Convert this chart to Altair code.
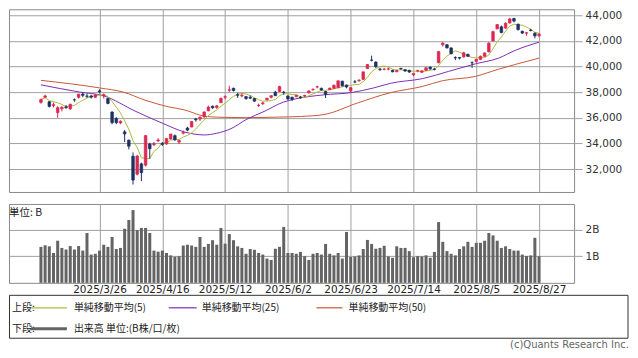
import altair as alt
import pandas as pd

# ---------------- data ----------------
tick_idx = [14, 29, 44, 59, 74, 89, 104, 119]
tick_labels = ["2025/3/26", "2025/4/16", "2025/5/12", "2025/6/2",
               "2025/6/23", "2025/7/14", "2025/8/5", "2025/8/27"]
price_ticks = [32000, 34000, 36000, 38000, 40000, 42000, 44000]
vol_ticks = [1, 2]

opens = [
    37200, 37600, 37250, 36950, 36400, 36700, 36850, 36700, 37400, 37600,
    37850, 37700, 37700, 37600, 38100, 37700, 37500, 36450, 35950, 35600,
    34900, 34250, 33000, 31600, 32400, 32300, 33950, 33900, 34200, 34000,
    33950, 34350, 34600, 34100, 34800, 35200, 35280, 35900, 35900, 36080,
    36550, 36900, 36800, 37180, 37600, 38150, 38300, 37800, 37700, 37650,
    37600, 37500, 36950, 37100, 37400, 37600, 38000, 38050, 38000, 37700,
    37600, 37650, 37600, 37700, 37950, 38200, 38400, 38300, 38050, 38200,
    38300, 38350, 38850, 38550, 38100, 38800, 38900, 39000, 39850, 40500,
    40350, 39800, 39780, 39800, 39700, 39600, 39850, 39750, 39700, 39350,
    39650, 39550, 39700, 39950, 39800, 40300, 41700, 41700, 41450, 40700,
    40700, 40750, 40950, 40300, 40400, 40550, 40800, 41150, 42000, 42950,
    43100, 43000, 43400, 43750, 43300, 42750, 42600, 42850, 42600, 42400,
]
highs = [
    37500, 37800, 37300, 37200, 36900, 36900, 37000, 37100, 37500, 37850,
    38000, 37900, 37800, 37850, 38220, 37900, 37550, 36500, 36050, 35800,
    35050, 34300, 33300, 33100, 32500, 34640, 34050, 34100, 34400, 34100,
    34400, 34750, 34700, 34300, 35000, 35300, 35750, 36000, 36100, 36500,
    36950, 36950, 37000, 37600, 37750, 38500, 38350, 37950, 37900, 37700,
    37750, 37550, 37100, 37250, 37550, 37750, 38100, 38500, 38100, 37750,
    37650, 37800, 37700, 37800, 38150, 38300, 38500, 38350, 38100, 38350,
    38600, 38900, 38900, 38600, 38400, 38950, 39000, 39600, 40200, 40850,
    40400, 39900, 39900, 39900, 39750, 39750, 39900, 39800, 39750, 39500,
    39750, 39700, 39950, 40000, 39900, 41200, 41900, 41750, 41500, 40800,
    40750, 41150, 41000, 40400, 40600, 40850, 41100, 41900, 42800, 43300,
    43200, 43450, 43800, 43800, 43350, 42800, 42700, 42950, 42650, 42600,
]
lows = [
    37100, 37550, 36800, 36800, 35990, 36500, 36700, 36600, 37250, 37500,
    37600, 37550, 37500, 37550, 37900, 37500, 37050, 35500, 35500, 35500,
    34100, 33530, 30790, 31500, 31060, 32200, 32800, 33800, 34100, 33800,
    33900, 34300, 34200, 33950, 34700, 34950, 35250, 35700, 35750, 36000,
    36500, 36700, 36700, 37150, 37450, 38000, 38050, 37550, 37600, 37400,
    37450, 37250, 36850, 37000, 37350, 37500, 37700, 38000, 37800, 37400,
    37300, 37600, 37500, 37600, 37900, 38100, 38300, 38100, 37540, 38150,
    38250, 38300, 38450, 38300, 38000, 38700, 38800, 38950, 39800, 40400,
    39900, 39650, 39700, 39700, 39550, 39550, 39750, 39600, 39500, 39250,
    39550, 39500, 39650, 39750, 39700, 40250, 41550, 41400, 40950, 40500,
    40550, 40700, 40750, 39900, 40300, 40500, 40750, 41100, 41950, 42900,
    42600, 42950, 43350, 43450, 42800, 42550, 42400, 42750, 42200, 42300,
]
closes = [
    37418, 37705, 36887, 37028, 36793, 36819, 36790, 37053, 37396, 37845,
    37751, 37677, 37608, 37780, 38027, 37799, 37120, 35617, 35624, 35725,
    34735, 33780, 31136, 33012, 31714, 34609, 33586, 33982, 34267, 33920,
    34377, 34730, 34280, 34220, 34868, 35039, 35705, 35840, 36045, 36452,
    36831, 36780, 36928, 37503, 37644, 38183, 38128, 37755, 37753, 37498,
    37529, 37299, 36985, 37160, 37532, 37724, 37722, 38432, 37965, 37470,
    37446, 37747, 37554, 37741, 38088, 38211, 38421, 38173, 37834, 38311,
    38536, 38885, 38488, 38403, 38354, 38790, 38942, 39584, 40150, 40487,
    39986, 39762, 39785, 39810, 39587, 39688, 39821, 39646, 39569, 39459,
    39678, 39663, 39901, 39819, 39774, 41171, 41826, 41456, 40998, 40674,
    40654, 41069, 40800, 40290, 40549, 40794, 41059, 41820, 42718, 43274,
    42649, 43378, 43714, 43546, 42888, 42610, 42633, 42807, 42394, 42520,
]
volumes = [
    1.35, 1.41, 1.37, 1.12, 1.58, 1.31, 1.25, 1.38, 1.25, 1.38,
    1.21, 1.87, 1.06, 1.09, 1.21, 1.43, 1.35, 1.72, 1.27, 1.31,
    2.03, 2.36, 2.73, 1.98, 2.06, 2.06, 1.87, 1.21, 1.17, 1.21,
    1.12, 1.03, 0.98, 1.00, 1.40, 1.43, 1.40, 1.35, 1.72, 1.35,
    1.46, 1.60, 1.43, 2.06, 1.47, 1.83, 1.60, 1.37, 1.31, 1.09,
    1.27, 1.24, 1.12, 1.06, 0.91, 0.86, 1.28, 1.35, 2.10, 1.12,
    1.12, 1.09, 1.16, 1.00, 0.86, 1.09, 1.12, 1.06, 1.46, 1.09,
    1.03, 1.12, 0.91, 1.91, 0.97, 0.99, 1.03, 1.27, 1.61, 1.46,
    1.28, 1.31, 1.39, 0.99, 0.94, 1.37, 1.31, 1.31, 1.19, 0.96,
    1.00, 0.99, 1.03, 0.94, 1.16, 2.28, 1.54, 1.19, 1.09, 1.03,
    1.27, 1.37, 1.54, 1.35, 1.50, 1.50, 1.58, 1.87, 1.78, 1.58,
    1.31, 1.37, 1.27, 1.21, 1.21, 1.06, 1.01, 1.03, 1.69, 1.00,
]
ma25_idx = [0, 9.2, 14.9, 22.7, 29.4, 34.2, 39, 42, 45.4, 49.2, 53.3, 58,
            60.9, 67.6, 74, 79.5, 83.5, 91.2, 97.4, 103.8, 109.3, 113.3, 119]
ma25_val = [38570, 38010, 37720, 36490, 35520, 34900, 34660, 34790, 35150,
            35890, 36490, 37230, 37480, 37790, 37960, 38330, 38690, 39060,
            39620, 40210, 40650, 41260, 41900]
ma50_idx = [0, 14, 19.6, 25.1, 30.4, 34.2, 39, 42, 49.2, 56.4, 62, 67.6,
            75.6, 83.5, 91.2, 95.9, 103.8, 109.3, 113.3, 119]
ma50_val = [38920, 38330, 38010, 37350, 36860, 36620, 36130, 36050, 36010,
            36050, 36100, 36250, 37150, 37960, 38450, 38890, 39230, 39790,
            40160, 40660]

legend_top = "上段:"
legend_bottom = "下段:"
ma_names = ["単純移動平均(5)", "単純移動平均(25)", "単純移動平均(50)"]
vol_name = "出来高 単位:(B株/口/枚)"
unit_text = "単位: B"
credit_text = "(c)Quants Research Inc."

# ---------------- styling ----------------
RED = "#dc2850"
NAVY = "#1d3163"
MA5C = "#aebb3e"
MA25C = "#7b2fb5"
MA50C = "#c9573a"
VOLC = "#646464"
GRID = "#a0a0a0"
FONT = "DejaVu Sans"
JFONT = "Noto Sans CJK JP"

W, H1, H2 = 566, 183, 79
xscale = alt.Scale(domain=[-7.63, 127.37], nice=False, zero=False, padding=0)
yscale = alt.Scale(domain=[30208, 44468], nice=False, zero=False, padding=0)

df = pd.DataFrame({"idx": list(range(len(closes))), "open": opens, "high": highs,
                   "low": lows, "close": closes, "vol": volumes})
df["dir"] = ["up" if c >= o else "down" for o, c in zip(opens, closes)]

label_expr = ("[" + ",".join("'%s'" % t for t in tick_labels) + "][indexof(["
              + ",".join(str(v) for v in tick_idx) + "], datum.value)]")

up_x_axis = alt.Axis(values=tick_idx, labels=False, ticks=False, domain=False,
                     grid=True, gridColor=GRID, title=None)
price_axis = alt.Axis(orient="right", values=price_ticks,
                      labelExpr="format(datum.value, ',')", grid=True,
                      gridColor=GRID, tickColor=GRID, tickSize=8, domain=False,
                      labelPadding=3, labelFont=FONT, labelFontSize=10.5,
                      labelOverlap=False, labelColor="#333333", title=None)
cdir = alt.Color("dir:N", scale=alt.Scale(domain=["up", "down"], range=[RED, NAVY]),
                 legend=None)
sdir = alt.Stroke("dir:N", scale=alt.Scale(domain=["up", "down"], range=[RED, NAVY]),
                  legend=None)

base = alt.Chart(df)
X_UP = alt.X("idx:Q", scale=xscale, axis=up_x_axis)
Y_UP = lambda f: alt.Y(f, scale=yscale, axis=price_axis)

ma50 = alt.Chart(pd.DataFrame({"idx": ma50_idx, "v": ma50_val})).mark_line(
    color=MA50C, strokeWidth=1, interpolate="monotone").encode(x=X_UP, y=Y_UP("v:Q"))
ma25 = alt.Chart(pd.DataFrame({"idx": ma25_idx, "v": ma25_val})).mark_line(
    color=MA25C, strokeWidth=1, interpolate="monotone").encode(x=X_UP, y=Y_UP("v:Q"))
ma5 = base.transform_window(
    ma5="mean(close)", frame=[-4, 0], sort=[alt.SortField("idx")]
).mark_line(color=MA5C, strokeWidth=1).encode(x=X_UP, y=Y_UP("ma5:Q"))
wick = base.mark_rule(strokeWidth=1).encode(
    x=X_UP, y=Y_UP("low:Q"), y2="high:Q", color=cdir)
body = base.mark_bar(size=2.6, strokeWidth=0.7).encode(
    x=X_UP, y=Y_UP("open:Q"), y2="close:Q", color=cdir, stroke=sdir)

upper = alt.layer(ma50, ma25, ma5, wick, body).properties(width=W, height=H1)

# ---------------- lower panel ----------------
low_x_axis = alt.Axis(values=tick_idx, labelExpr=label_expr, grid=True, gridColor=GRID,
                      ticks=False, domain=False, labelPadding=2, labelFont=FONT,
                      labelFontSize=10.5, labelColor="#222222", labelFlush=False,
                      labelOverlap=False, title=None)
vol_axis = alt.Axis(orient="right", values=vol_ticks, labelExpr="datum.value + 'B'",
                    grid=True, gridColor=GRID, tickColor=GRID, tickSize=8, domain=False,
                    labelPadding=3, labelFont=FONT, labelFontSize=10.5,
                    labelColor="#333333", title=None)
vol = base.mark_bar(size=3, color=VOLC).encode(
    x=alt.X("idx:Q", scale=xscale, axis=low_x_axis),
    y=alt.Y("vol:Q", scale=alt.Scale(domain=[0, 2.96], nice=False, padding=0),
            axis=vol_axis),
)

one = pd.DataFrame({"k": [0]})


def txt(s, x, y, size=10, font=JFONT, align="left", color="#222222"):
    return alt.Chart(one).mark_text(align=align, baseline="middle", font=font,
                                    fontSize=size, color=color).encode(
        x=alt.value(x), y=alt.value(y), text=alt.value(s))


def seg(x1, x2, y, color, width):
    return alt.Chart(one).mark_rule(color=color, strokeWidth=width).encode(
        x=alt.value(x1), x2=alt.value(x2), y=alt.value(y))


R1, R2 = 104, 125
box = alt.Chart(one).mark_rect(fillOpacity=0, stroke="#333333", strokeWidth=1).encode(
    x=alt.value(0.5), x2=alt.value(620), y=alt.value(91.5), y2=alt.value(134.5))

legend_marks = [
    box,
    txt(legend_top, 3, R1),
    seg(22, 58, R1, MA5C, 1.2), txt(ma_names[0], 65, R1),
    seg(160, 188, R1, MA25C, 1.2), txt(ma_names[1], 193, R1),
    seg(308, 334, R1, MA50C, 1.2), txt(ma_names[2], 340, R1),
    txt(legend_bottom, 3, R2),
    seg(22, 58, R2, VOLC, 3), txt(vol_name, 65, R2),
    txt(unit_text, 0, 9, size=10.5),
    txt(credit_text, 621, 141, size=10, font=FONT, align="right", color="#666666"),
]

lower = alt.layer(vol, *legend_marks).properties(width=W, height=H2)

chart = alt.vconcat(upper, lower, spacing=10).properties(
    padding=0, background="white"
).configure_view(stroke="#8a8a8a", strokeWidth=1)

chart.save("out.html", embed_options={"renderer": "svg", "actions": False})
